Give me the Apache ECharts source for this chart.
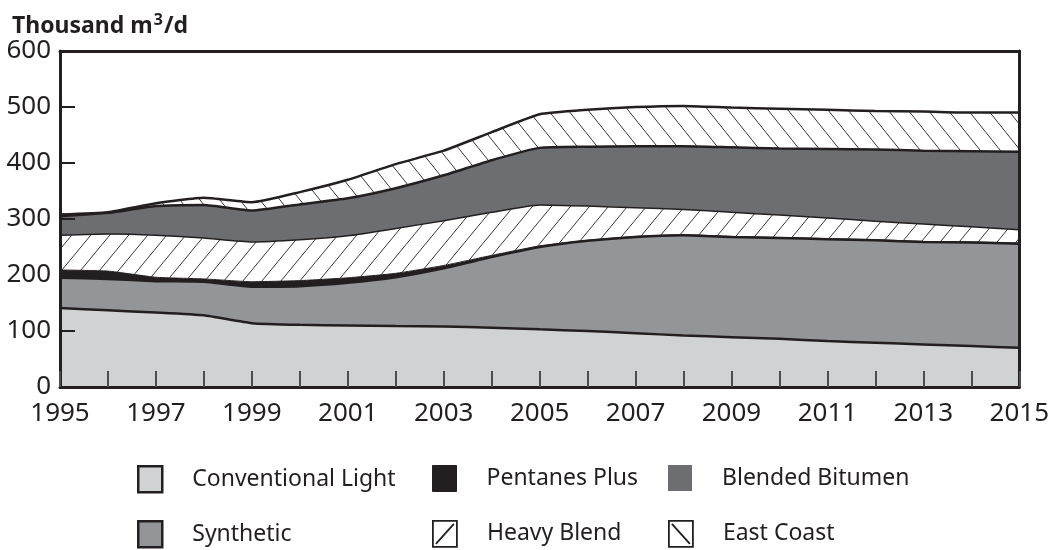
<!DOCTYPE html>
<html>
<head>
<meta charset="utf-8">
<script src="https://cdn.jsdelivr.net/npm/echarts@6/dist/echarts.min.js"></script>
<style>
  html, body { margin: 0; padding: 0; background: #fff; }
  #chart { width: 1052px; height: 550px; }
</style>
</head>
<body>
<div id="chart"></div>
<script>
// years on the x axis
const years = ['1995', '1996', '1997', '1998', '1999', '2000', '2001', '2002', '2003', '2004', '2005',
  '2006', '2007', '2008', '2009', '2010', '2011', '2012', '2013', '2014', '2015'];
// stacked layers, thousand m3/d (bottom to top)
const conventionalLight = [141, 137, 133, 128, 114, 111, 110, 109, 108, 106, 103, 100, 96, 92, 89, 86, 82, 79, 76, 73, 70];
const synthetic = [54, 56, 56, 60, 65, 69, 76, 87, 104, 126, 147, 161, 172, 179, 179, 180, 182, 183, 183, 185, 186];
const pentanesPlus = [14, 14, 7, 5, 9, 10, 9, 7, 5, 3, 2, 1, 1, 1, 1, 1, 1, 1, 1, 1, 1];
const heavyBlend = [62, 66, 75, 73, 71, 73, 75, 80, 80, 77, 73, 61, 51, 45, 43, 40, 37, 33, 31, 27, 24];
const blendedBitumen = [34, 38, 52, 59, 56, 63, 67, 72, 81, 93, 102, 106, 110, 113, 116, 119, 123, 128, 131, 135, 139];
const eastCoast = [3, 1, 5, 13, 15, 22, 33, 43, 44, 50, 60, 66, 70, 72, 71, 71, 70, 69, 70, 69, 70];
const yTicks = [0, 100, 200, 300, 400, 500, 600];

const INK = '#231f20';
const FONT = '"Noto Sans", sans-serif';

// diagonal hatch tile, dir 1 = '/', -1 = '\'
function hatch(w, h, dir) {
  const c = document.createElement('canvas');
  c.width = w; c.height = h;
  const ctx = c.getContext('2d');
  ctx.fillStyle = '#fff';
  ctx.fillRect(0, 0, w, h);
  ctx.strokeStyle = '#3a3637';
  ctx.lineWidth = 1;
  [-w, 0, w].forEach(off => {
    ctx.beginPath();
    if (dir > 0) { ctx.moveTo(off, h); ctx.lineTo(off + w, 0); }
    else { ctx.moveTo(off, 0); ctx.lineTo(off + w, h); }
    ctx.stroke();
  });
  return c;
}

function layer(name, data, fill, lineWidth) {
  return {
    name: name,
    type: 'line',
    stack: 'total',
    data: data,
    symbol: 'none',
    smooth: 0.15,
    lineStyle: { color: INK, width: lineWidth },
    itemStyle: { color: INK },
    areaStyle: { color: fill, opacity: 1 },
    emphasis: { disabled: true }
  };
}

const chart = echarts.init(document.getElementById('chart'));

const slashIcon = 'path://M0,0L24,0L24,26L0,26ZM3,23L21,3';
const backIcon = 'path://M0,0L24,0L24,26L0,26ZM3,3L21,23';

// one legend per entry so each sits where the reference puts it
function legendAt(left, top, item) {
  return {
    left: left, top: top,
    itemWidth: 24, itemHeight: 26,
    selectedMode: false,
    padding: 0,
    textStyle: { fontFamily: FONT, fontSize: 23, color: INK, padding: [0, 0, 0, 25] },
    data: [item]
  };
}

chart.setOption({
  animation: false,
  title: {
    text: 'Thousand m{sup|3}/d',
    left: 7, top: 7,
    textStyle: {
      fontFamily: FONT, fontSize: 23, fontWeight: 'bold', color: INK,
      rich: { sup: { fontFamily: FONT, fontSize: 16, fontWeight: 'bold', color: INK, padding: [0, 1, 12, 1] } }
    }
  },
  legend: [
    legendAt(137, 465, { name: 'Conventional Light', icon: 'rect', itemStyle: { color: '#d1d2d4', borderColor: INK, borderWidth: 2.5 } }),
    legendAt(137, 520, { name: 'Synthetic', icon: 'rect', itemStyle: { color: '#939598', borderColor: INK, borderWidth: 2.5 } }),
    legendAt(432, 465, { name: 'Pentanes Plus', icon: 'rect', itemStyle: { color: INK, borderColor: INK, borderWidth: 1 } }),
    legendAt(432, 520, { name: 'Heavy Blend', icon: slashIcon, itemStyle: { color: '#fff', borderColor: INK, borderWidth: 1.8 } }),
    legendAt(668, 465, { name: 'Blended Bitumen', icon: 'rect', itemStyle: { color: '#6d6e71', borderWidth: 0 } }),
    legendAt(668, 520, { name: 'East Coast', icon: backIcon, itemStyle: { color: '#fff', borderColor: INK, borderWidth: 1.8 } })
  ],
  grid: { left: 60, right: 32, top: 51, bottom: 163 },
  xAxis: [{
    type: 'category', data: years, boundaryGap: false,
    z: 10,
    axisLine: { lineStyle: { color: INK, width: 3 } },
    axisTick: { inside: true, interval: 0, length: 16, lineStyle: { color: '#4d4d4f', width: 2 } },
    splitLine: { show: false },
    axisLabel: { fontFamily: FONT, fontSize: 26, color: INK, margin: 14, interval: 1 }
  }, {
    type: 'category', data: years, boundaryGap: false, position: 'top',
    z: 10,
    axisLine: { onZero: false, lineStyle: { color: INK, width: 3 } },
    axisTick: { show: false }, axisLabel: { show: false }, splitLine: { show: false }
  }],
  yAxis: [{
    type: 'value', min: yTicks[0], max: yTicks[yTicks.length - 1], interval: 100,
    z: 10,
    axisLine: { show: true, lineStyle: { color: INK, width: 3 } },
    axisTick: { show: true, inside: true, length: 15, lineStyle: { color: INK, width: 2 } },
    splitLine: { show: false },
    axisLabel: { fontFamily: FONT, fontSize: 26, color: INK, margin: 9 }
  }, {
    type: 'value', position: 'right', min: yTicks[0], max: yTicks[yTicks.length - 1],
    z: 10,
    axisLine: { show: true, onZero: false, lineStyle: { color: INK, width: 3 } },
    axisTick: { show: false }, axisLabel: { show: false }, splitLine: { show: false }
  }],
  series: [
    layer('Conventional Light', conventionalLight, '#d1d2d4', 2.5),
    layer('Synthetic', synthetic, '#939598', 2.5),
    layer('Pentanes Plus', pentanesPlus, INK, 1),
    layer('Heavy Blend', heavyBlend, { image: hatch(19, 23, 1), repeat: 'repeat' }, 1.5),
    layer('Blended Bitumen', blendedBitumen, '#6d6e71', 2.5),
    layer('East Coast', eastCoast, { image: hatch(20, 25, -1), repeat: 'repeat' }, 2.5)
  ]
});
</script>
</body>
</html>
